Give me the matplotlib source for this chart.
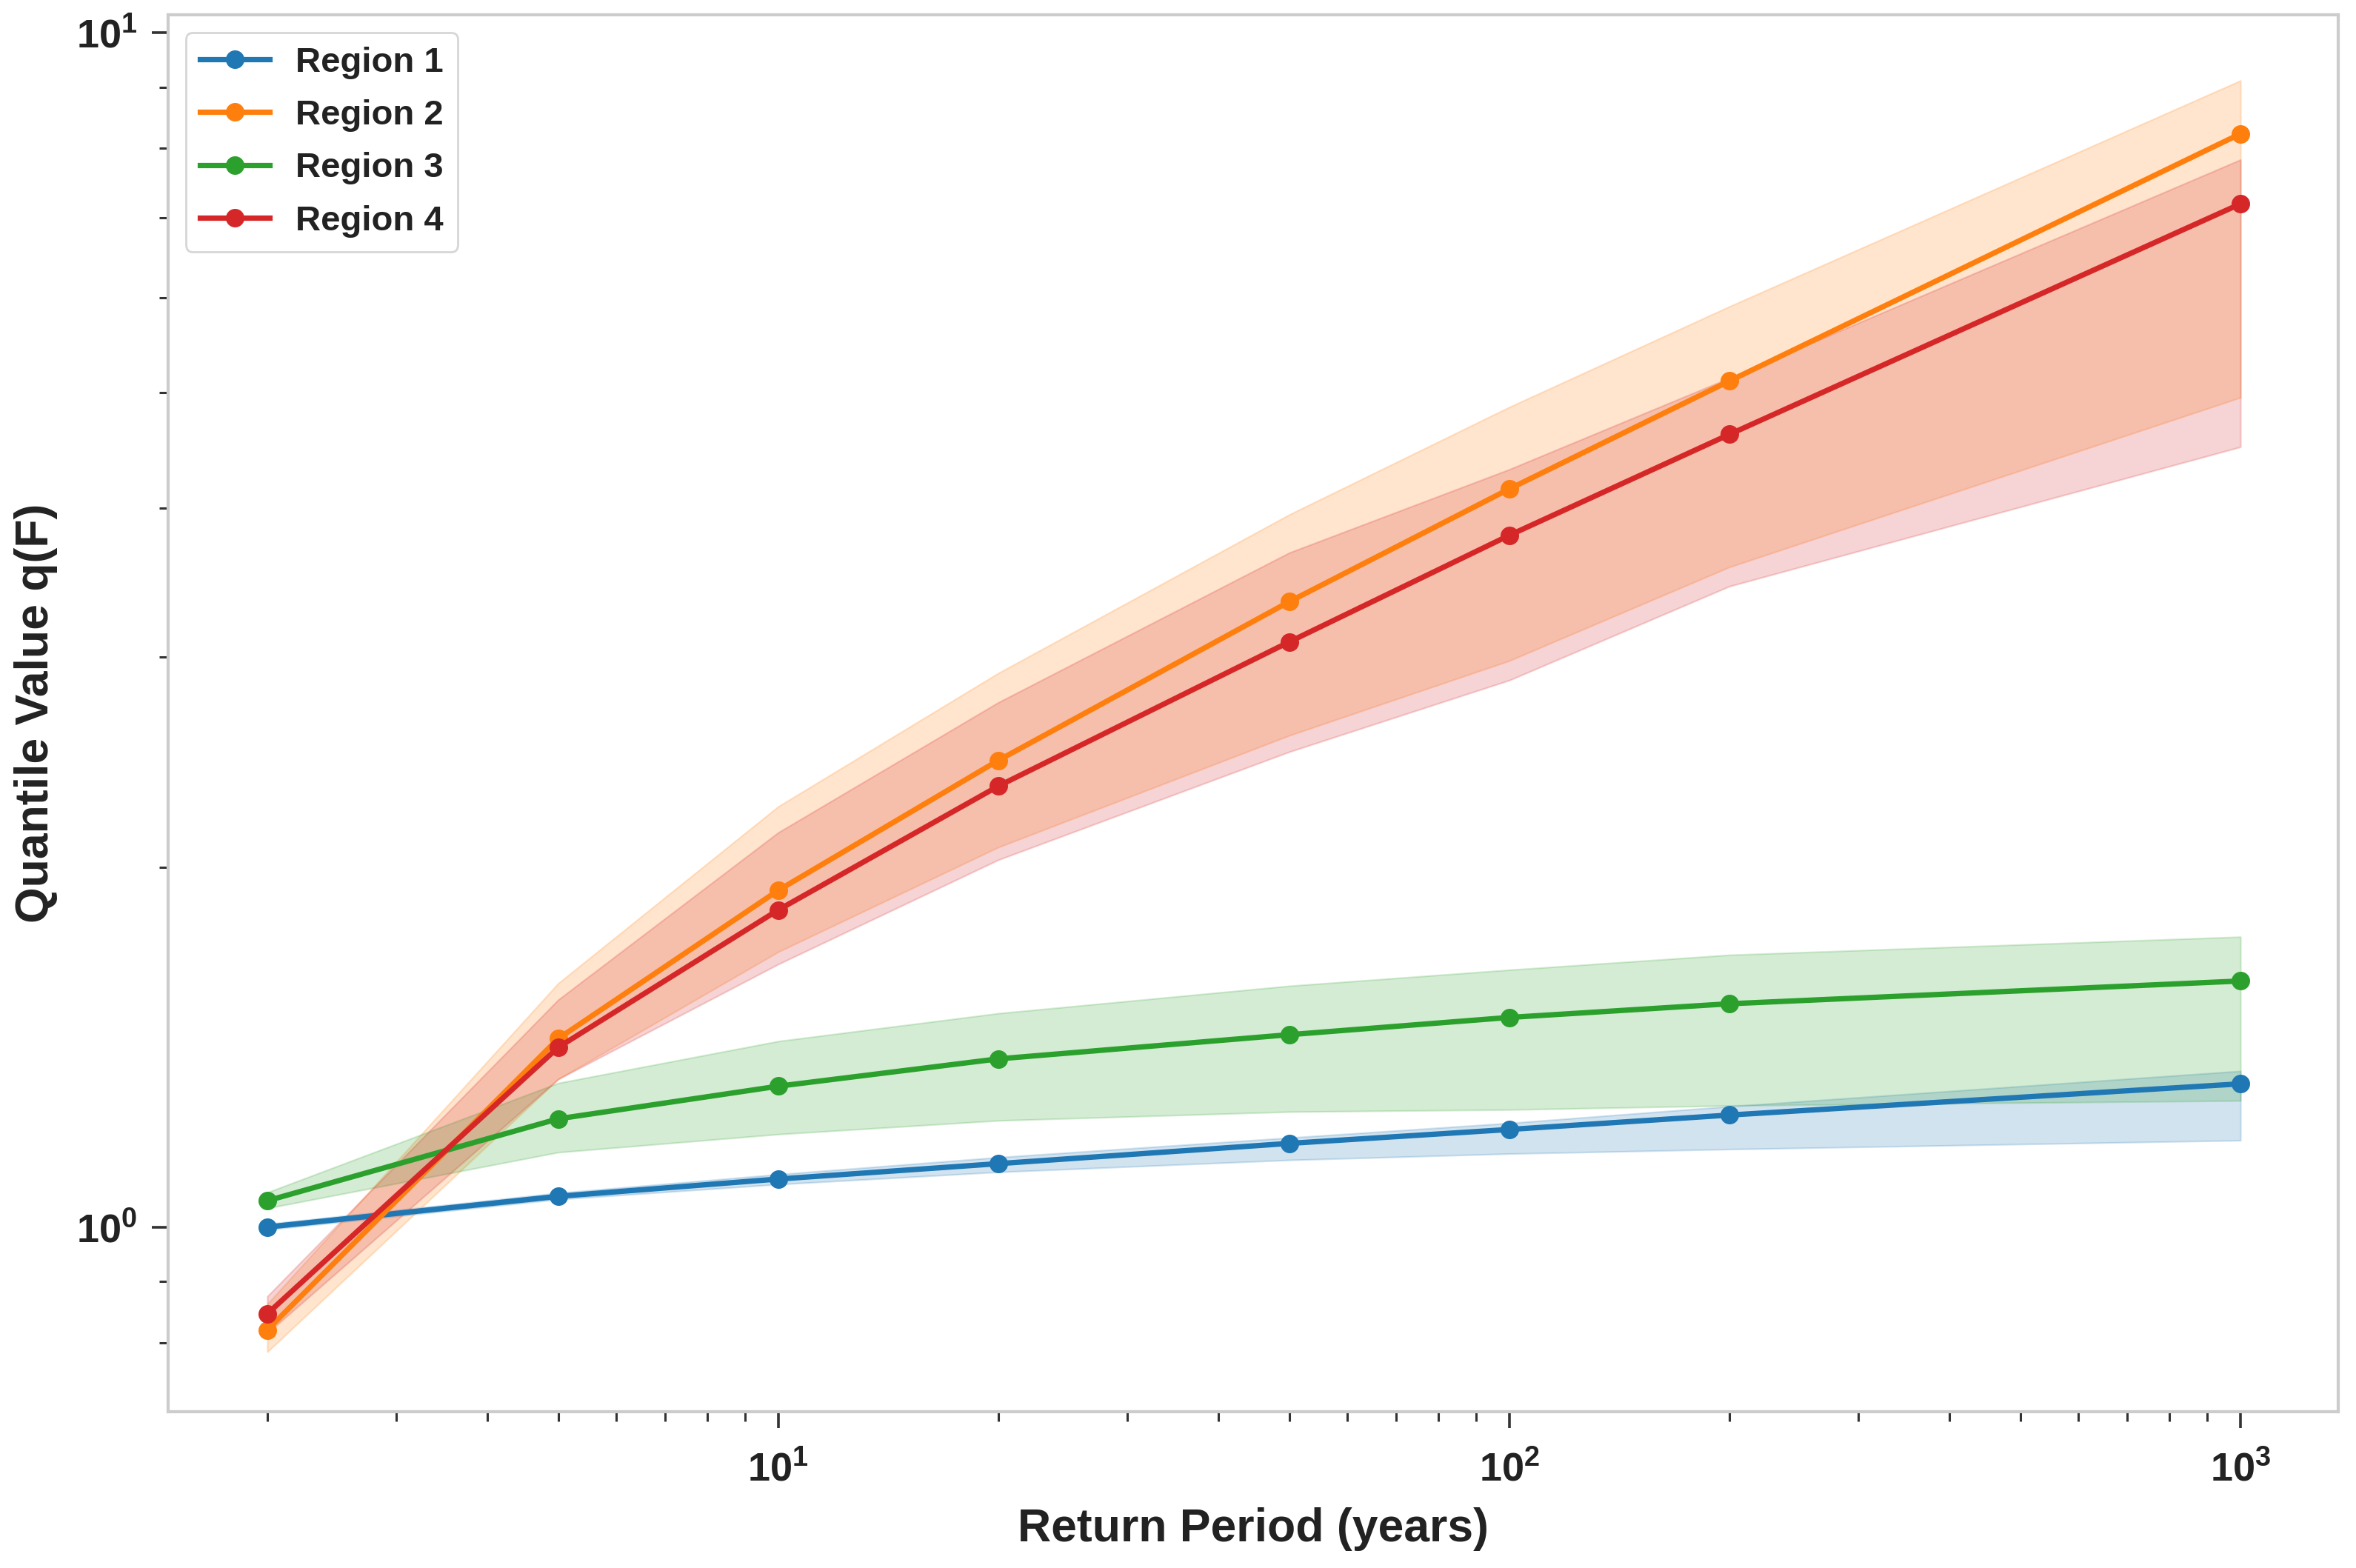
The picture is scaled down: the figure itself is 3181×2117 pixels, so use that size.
import matplotlib
matplotlib.use("Agg")
import matplotlib.pyplot as plt
from matplotlib.ticker import LogLocator, NullFormatter

plt.rcParams['font.family'] = ['Liberation Sans', 'DejaVu Sans']
plt.rcParams['font.weight'] = 'bold'

# return periods (years)
periods = [2, 5, 10, 20, 50, 100, 200, 1000]

regions = ['Region 1', 'Region 2', 'Region 3', 'Region 4']
colors = ['#1f77b4', '#ff7f0e', '#2ca02c', '#d62728']

# median quantiles
r1_mid = [1.000, 1.061, 1.097, 1.130, 1.175, 1.207, 1.241, 1.318]
r2_mid = [0.820, 1.438, 1.914, 2.459, 3.339, 4.150, 5.110, 8.230]
r3_mid = [1.052, 1.232, 1.312, 1.383, 1.449, 1.498, 1.538, 1.607]
r4_mid = [0.846, 1.414, 1.843, 2.340, 3.090, 3.795, 4.610, 7.190]

# lower / upper bounds of the shaded bands
r1_lo = [0.995, 1.055, 1.086, 1.112, 1.138, 1.152, 1.162, 1.182]
r1_hi = [1.006, 1.068, 1.107, 1.144, 1.188, 1.222, 1.262, 1.351]
r2_lo = [0.786, 1.330, 1.700, 2.080, 2.580, 2.980, 3.570, 4.950]
r2_hi = [0.862, 1.600, 2.250, 2.910, 3.950, 4.860, 5.900, 9.120]
r3_lo = [1.037, 1.155, 1.196, 1.228, 1.249, 1.254, 1.264, 1.276]
r3_hi = [1.069, 1.320, 1.431, 1.510, 1.592, 1.642, 1.690, 1.750]
r4_lo = [0.815, 1.330, 1.660, 2.030, 2.500, 2.870, 3.440, 4.500]
r4_hi = [0.875, 1.550, 2.140, 2.750, 3.670, 4.310, 5.140, 7.830]

mids = [r1_mid, r2_mid, r3_mid, r4_mid]
los = [r1_lo, r2_lo, r3_lo, r4_lo]
his = [r1_hi, r2_hi, r3_hi, r4_hi]

fig = plt.figure(figsize=(15.905, 10.585), dpi=200)
ax = fig.add_axes([0.0714, 0.0997, 0.9211, 0.8908])

for name, c, m, lo, hi in zip(regions, colors, mids, los, his):
    ax.plot(periods, m, marker='o', color=c, lw=2.6, markersize=8, label=name)
    ax.fill_between(periods, lo, hi, color=c, alpha=0.2, lw=0.8)

ax.set_xscale('log')
ax.set_yscale('log')
ax.set_xlim(1.464, 1361)
ax.set_ylim(0.7005, 10.35)

ax.yaxis.set_minor_formatter(NullFormatter())
ax.xaxis.set_minor_locator(LogLocator(base=10, subs=range(2, 10), numticks=20))

for s in ax.spines.values():
    s.set_color('#cccccc')
    s.set_linewidth(1.5)

ax.tick_params(which='major', length=8, width=1.3, color='#333333', pad=7,
               labelsize=19.5, labelcolor='#222222')
ax.tick_params(axis='x', which='major', pad=11)
ax.tick_params(which='minor', length=4.5, width=1.1, color='#333333')
for lab in ax.get_xticklabels() + ax.get_yticklabels():
    lab.set_fontweight('bold')

ax.set_xlabel('Return Period (years)', fontsize=22.5, fontweight='bold',
              color='#222222', labelpad=9)
ax.set_ylabel('Quantile Value q(F)', fontsize=22.5, fontweight='bold',
              color='#222222', labelpad=9)

leg = ax.legend(loc='upper left', fontsize=17, labelspacing=0.58,
                handletextpad=0.75, edgecolor='#cccccc', fancybox=True,
                framealpha=0.8)
for t in leg.get_texts():
    t.set_fontweight('bold')
    t.set_color('#222222')

fig.savefig('out.png', dpi=200)
